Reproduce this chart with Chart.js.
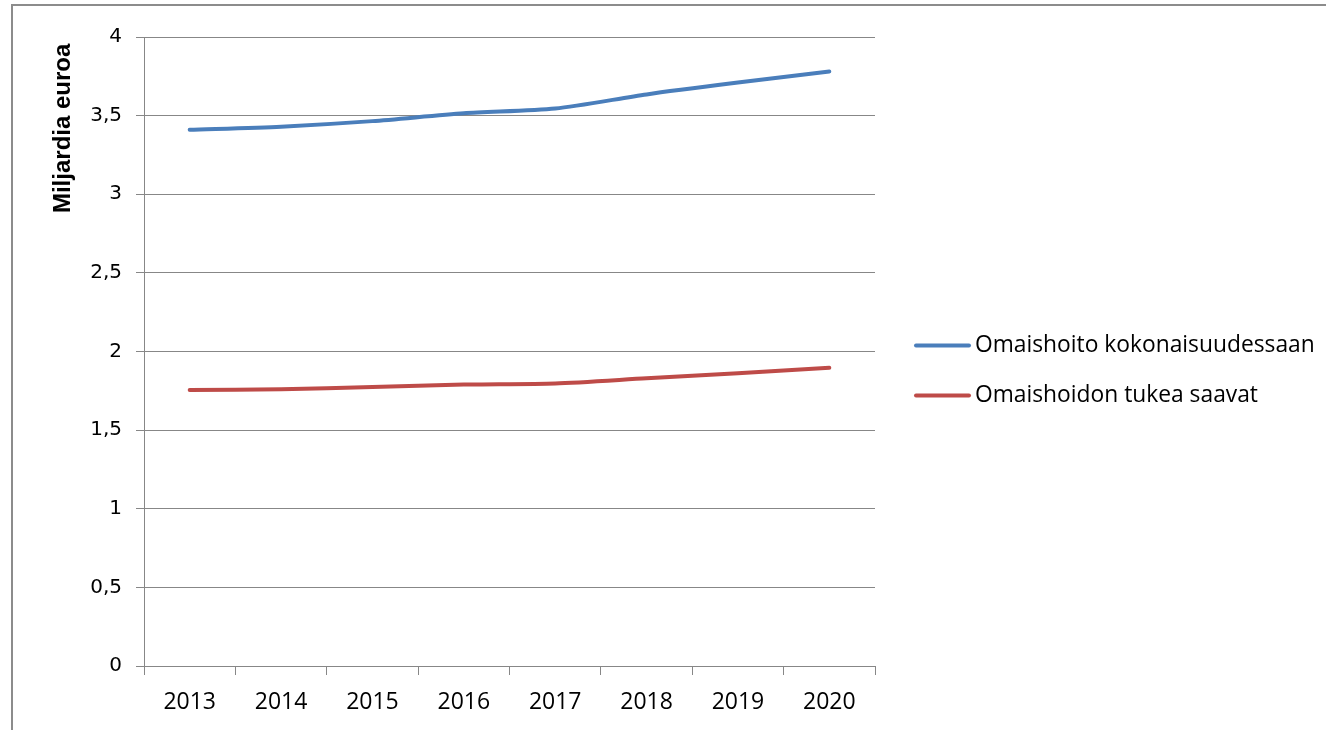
<!DOCTYPE html>
<html>
<head>
<meta charset="utf-8">
<script src="https://cdn.jsdelivr.net/npm/chart.js@4"></script>
<style>
  html, body { margin: 0; padding: 0; background: #fff; }
  #wrap { position: relative; width: 1326px; height: 730px; overflow: hidden; }
  #frame { position: absolute; left: 11px; top: 4px; width: 1400px; height: 800px;
           border-left: 2px solid #8c8c8c; border-top: 2px solid #8c8c8c; }
  canvas { position: absolute; left: 0; top: 0; }
</style>
</head>
<body>
<div id="wrap">
  <div id="frame"></div>
  <canvas id="chart" width="1326" height="730"></canvas>
</div>
<script>
// Categories and series
const years = ["2013", "2014", "2015", "2016", "2017", "2018", "2019", "2020"];
const kokonaisuudessaan = [3.41, 3.43, 3.465, 3.515, 3.545, 3.635, 3.71, 3.78];
const tukeaSaavat = [1.755, 1.76, 1.775, 1.79, 1.797, 1.83, 1.862, 1.896];

const seriesNames = ["Omaishoito kokonaisuudessaan", "Omaishoidon tukea saavat"];
const seriesColors = ["#4a7ebb", "#be4b48"];

const yTitle = "Miljardia euroa";
const yMin = 0, yMax = 4, yStep = 0.5;

const GRID = "#878787";

// Legend on the right, drawn by hand like the Excel one
const sideLegend = {
  id: "sideLegend",
  afterDraw(chart) {
    const ctx = chart.ctx;
    const x0 = 916, x1 = 969, tx = 975;
    const rows = [345.5, 395.5];
    ctx.save();
    chart.data.datasets.forEach((ds, i) => {
      ctx.strokeStyle = ds.borderColor;
      ctx.lineWidth = 4;
      ctx.lineCap = "round";
      ctx.beginPath();
      ctx.moveTo(x0, rows[i]);
      ctx.lineTo(x1, rows[i]);
      ctx.stroke();
      ctx.fillStyle = "#000";
      ctx.font = "22.8px 'Open Sans'";
      ctx.textBaseline = "middle";
      ctx.fillText(ds.label, tx, rows[i]);
    });
    ctx.restore();
  }
};

new Chart(document.getElementById("chart"), {
  type: "line",
  data: {
    labels: years,
    datasets: [
      { label: seriesNames[0], data: kokonaisuudessaan, borderColor: seriesColors[0], backgroundColor: seriesColors[0] },
      { label: seriesNames[1], data: tukeaSaavat, borderColor: seriesColors[1], backgroundColor: seriesColors[1] }
    ]
  },
  options: {
    responsive: false,
    animation: false,
    layout: { padding: { left: 0, top: 37, right: 451, bottom: 0 } },
    elements: {
      line: { borderWidth: 4, tension: 0.25, borderCapStyle: "round" },
      point: { radius: 0 }
    },
    plugins: { legend: { display: false }, tooltip: { enabled: false } },
    scales: {
      x: {
        offset: true,
        grid: { offset: true, drawOnChartArea: false, drawTicks: true, tickLength: 9, color: GRID },
        border: { color: GRID, width: 1 },
        ticks: { color: "#000", font: { family: "'Open Sans'", size: 23 }, padding: 14, maxRotation: 0 },
        afterFit: s => { s.height = 64; }
      },
      y: {
        min: yMin, max: yMax,
        grid: { color: GRID, tickLength: 8 },
        border: { color: GRID, width: 1 },
        ticks: {
          stepSize: yStep, color: "#000", padding: 14,
          font: { family: "'DejaVu Sans'", size: 20 },
          callback: v => String(v).replace(".", ",")
        },
        title: {
          display: true, text: yTitle + " ", align: "end", color: "#000",
          font: { family: "'Liberation Sans'", size: 24, weight: "bold" },
          padding: { top: 49 }
        },
        afterFit: s => { s.width = 144; }
      }
    }
  },
  plugins: [sideLegend]
});
</script>
</body>
</html>
